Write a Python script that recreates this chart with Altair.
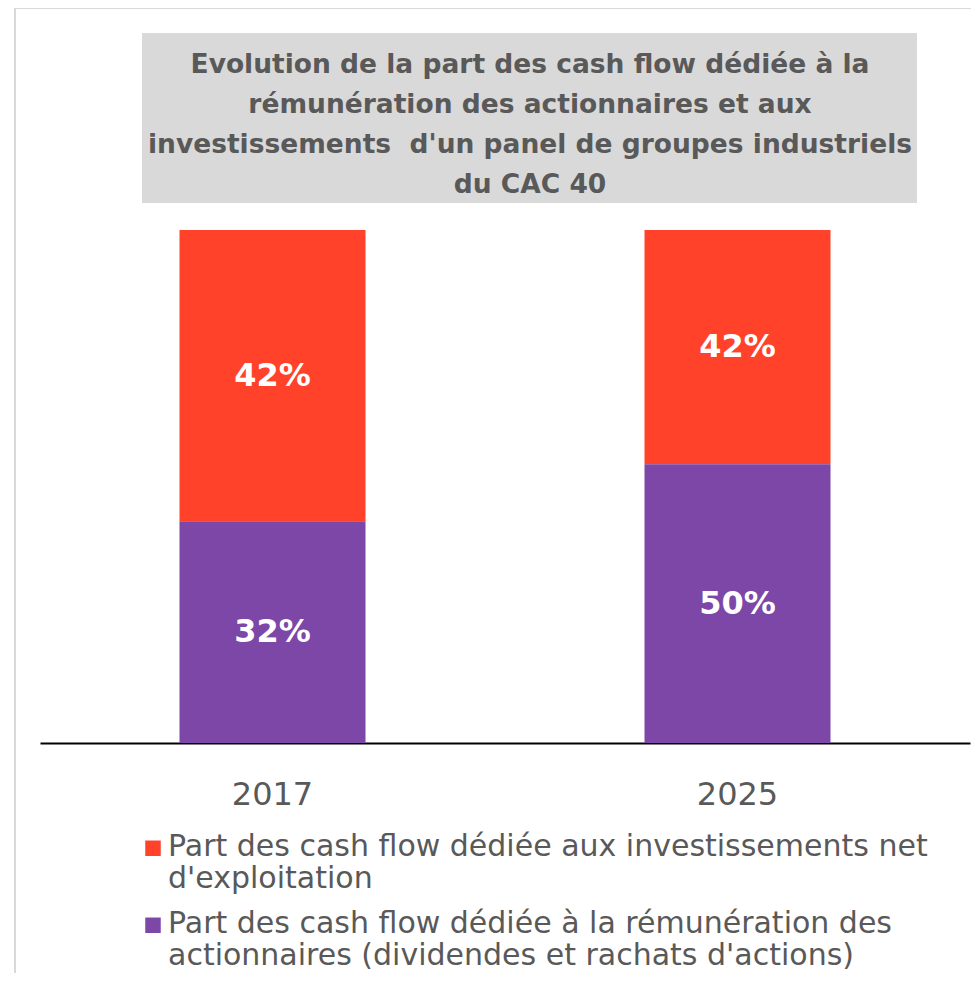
import altair as alt
import pandas as pd

years = ["2017", "2017", "2025", "2025"]
series = [
    "Part des cash flow dédiée aux investissements net d'exploitation",
    "Part des cash flow dédiée à la rémunération des actionnaires (dividendes et rachats d'actions)",
    "Part des cash flow dédiée aux investissements net d'exploitation",
    "Part des cash flow dédiée à la rémunération des actionnaires (dividendes et rachats d'actions)",
]
values = [42, 32, 42, 50]
stack_order = [1, 0, 1, 0]

series_domain = [
    "Part des cash flow dédiée aux investissements net d'exploitation",
    "Part des cash flow dédiée à la rémunération des actionnaires (dividendes et rachats d'actions)",
]
series_colors = ["#FF4229", "#7D47A8"]
legend_lines_1 = ["Part des cash flow dédiée aux investissements net", "d'exploitation"]
legend_lines_2 = ["Part des cash flow dédiée à la rémunération des", "actionnaires (dividendes et rachats d'actions)"]
title_lines = [
    "Evolution de la part des cash flow dédiée à la",
    "rémunération des actionnaires et aux",
    "investissements\u00a0 d'un panel de groupes industriels",
    "du CAC 40",
]

df = pd.DataFrame({"year": years, "series": series, "value": values, "ord": stack_order})

FONT = "DejaVu Sans"
GRAY = "#595959"


def js_str(s):
    return "'" + s.replace("\\", "\\\\").replace("'", "\\'") + "'"


def js_arr(lines):
    return "[" + ", ".join(js_str(l) for l in lines) + "]"


label_expr = (
    "datum.label == " + js_str(series_domain[0]) + " ? "
    + js_arr(legend_lines_1) + " : " + js_arr(legend_lines_2)
)

base = alt.Chart(df).transform_stack(
    stack="value", groupby=["year"], as_=["y0", "y1"], offset="normalize",
    sort=[alt.SortField("ord", order="ascending")],
).transform_calculate(
    ymid="(datum.y0 + datum.y1) / 2",
    lbl="datum.value + '%'",
)

xenc = alt.X(
    "year:N", title=None,
    scale=alt.Scale(paddingInner=0.6, paddingOuter=0.3),
    axis=alt.Axis(
        labelAngle=0, labelFont=FONT, labelFontSize=32, labelColor=GRAY,
        labelPadding=36, ticks=False, domainColor="#000000", domainWidth=2,
        grid=False,
    ),
)
yscale = alt.Scale(domain=[0, 1], nice=False, zero=True)

bars = base.mark_bar().encode(
    x=xenc,
    y=alt.Y("y0:Q", scale=yscale, axis=None),
    y2="y1:Q",
    color=alt.Color(
        "series:N",
        scale=alt.Scale(domain=series_domain, range=series_colors),
        sort=series_domain,
        legend=alt.Legend(
            title=None, orient="none", legendX=98, legendY=587, direction="vertical",
            symbolType="M-1,1.1H1V3.1H-1Z", symbolSize=240, symbolStrokeWidth=0,
            labelFont=FONT, labelFontSize=30, labelColor=GRAY, labelLimit=900,
            labelExpr=label_expr, rowPadding=-6, labelOffset=0,
            labelBaseline="top",
        ),
    ),
)

texts = base.mark_text(
    font=FONT, fontSize=32, fontWeight="bold", color="white"
).encode(
    x=alt.X("year:N"),
    y=alt.Y("ymid:Q", scale=yscale, axis=None),
    text="lbl:N",
)

# title box and outer frame
title_df = pd.DataFrame({"line": title_lines, "i": list(range(len(title_lines)))})
title_box = alt.Chart(pd.DataFrame({"k": [0]})).mark_rect(
    color="#D9D9D9"
).encode(
    x=alt.value(102), x2=alt.value(877), y=alt.value(-197), y2=alt.value(-27)
)
frame = alt.Chart(pd.DataFrame({"k": [0]})).mark_rect(
    fill=None, stroke="#D9D9D9", strokeWidth=2
).encode(
    x=alt.value(-25), x2=alt.value(1000), y=alt.value(-222), y2=alt.value(900)
)
title_text = alt.Chart(title_df).mark_text(
    font=FONT, fontSize=26.5, fontWeight="bold", color=GRAY, baseline="middle"
).encode(
    x=alt.value(490),
    y=alt.Y("i:O", scale=alt.Scale(type="point", range=[-165, -45], padding=0), axis=None),
    text="line:N",
)

chart = alt.layer(frame, title_box, title_text, bars, texts).resolve_scale(
    y="independent"
).properties(
    width=930, height=513,
    padding={"left": 32, "top": 222, "right": 1, "bottom": 230},
    autosize=alt.AutoSizeParams(type="none"),
).configure_view(stroke=None)

chart.save("out.html", embed_options={"renderer": "svg", "actions": False})
